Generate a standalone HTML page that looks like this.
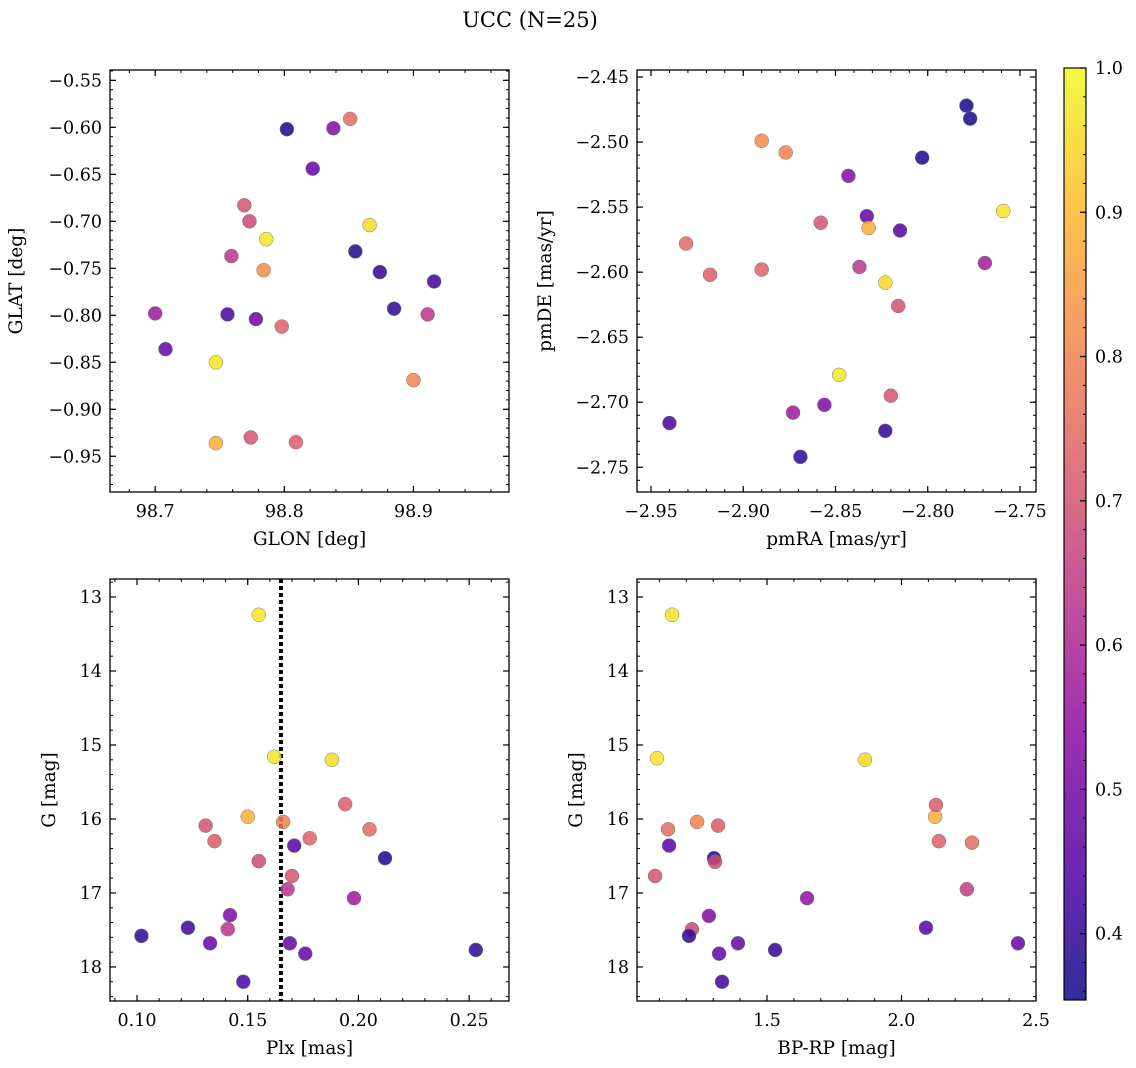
<!DOCTYPE html>
<html><head><meta charset="utf-8"><style>
html,body{margin:0;padding:0;background:#fff;width:1136px;height:1068px;overflow:hidden}
svg text{font-family:"DejaVu Serif","Liberation Serif",serif;fill:#000}
</style></head><body>
<svg id="fig" width="1136" height="1068" xmlns="http://www.w3.org/2000/svg">
<defs><linearGradient id="cbg" x1="0" y1="1" x2="0" y2="0"></linearGradient></defs>
<text x="530" y="27" font-size="21" text-anchor="middle">UCC (N=25)</text>
</svg>
<script>
// Panel 1: GLON / GLAT
const p1x=[98.802,98.838,98.851,98.822,98.769,98.773,98.786,98.866,98.759,98.855,98.784,98.874,98.885,98.911,98.916,98.700,98.756,98.778,98.798,98.708,98.747,98.900,98.747,98.774,98.809];
const p1y=[-0.602,-0.601,-0.591,-0.644,-0.683,-0.700,-0.719,-0.704,-0.737,-0.732,-0.752,-0.754,-0.793,-0.799,-0.764,-0.798,-0.799,-0.804,-0.812,-0.836,-0.850,-0.869,-0.936,-0.930,-0.935];
const p1c=[0.37,0.52,0.75,0.47,0.70,0.68,0.97,0.95,0.63,0.38,0.82,0.40,0.40,0.63,0.42,0.57,0.43,0.47,0.73,0.47,0.97,0.80,0.88,0.70,0.72];
// Panel 2: pmRA / pmDE
const p2x=[-2.779,-2.777,-2.803,-2.890,-2.877,-2.843,-2.759,-2.833,-2.858,-2.832,-2.815,-2.931,-2.769,-2.837,-2.890,-2.918,-2.823,-2.816,-2.848,-2.820,-2.856,-2.873,-2.940,-2.823,-2.869];
const p2y=[-2.472,-2.482,-2.512,-2.499,-2.508,-2.526,-2.553,-2.557,-2.562,-2.566,-2.568,-2.578,-2.593,-2.596,-2.598,-2.602,-2.608,-2.626,-2.679,-2.695,-2.702,-2.708,-2.716,-2.722,-2.742];
const p2c=[0.37,0.37,0.38,0.82,0.80,0.52,0.97,0.47,0.70,0.88,0.45,0.75,0.58,0.63,0.73,0.72,0.95,0.70,0.97,0.70,0.52,0.57,0.43,0.40,0.40];
// Panel 3: Plx / G
const p3x=[0.155,0.162,0.188,0.150,0.194,0.131,0.166,0.205,0.135,0.178,0.171,0.212,0.155,0.170,0.168,0.198,0.142,0.123,0.141,0.102,0.133,0.169,0.176,0.253,0.148];
const p3y=[13.24,15.16,15.20,15.97,15.80,16.09,16.04,16.14,16.30,16.26,16.36,16.53,16.57,16.77,16.95,17.07,17.30,17.47,17.49,17.58,17.68,17.68,17.82,17.77,18.20];
const p3c=[0.97,0.97,0.95,0.88,0.72,0.70,0.80,0.75,0.72,0.73,0.45,0.38,0.68,0.70,0.63,0.57,0.52,0.42,0.63,0.40,0.47,0.47,0.47,0.40,0.43];
const plxLine=[0.165];
// Panel 4: BP-RP / G
const p4x=[1.147,1.091,1.864,2.125,2.128,1.132,1.240,1.318,2.139,2.262,1.136,1.303,1.307,1.084,2.243,1.649,1.284,1.221,2.091,1.210,1.392,2.433,1.322,1.530,1.333];
const p4y=[13.24,15.18,15.20,15.97,15.81,16.14,16.04,16.09,16.30,16.32,16.36,16.53,16.58,16.77,16.95,17.07,17.31,17.49,17.47,17.58,17.68,17.68,17.82,17.77,18.20];
const p4c=[0.97,0.97,0.95,0.88,0.72,0.75,0.80,0.72,0.73,0.75,0.45,0.38,0.68,0.70,0.65,0.55,0.52,0.68,0.45,0.40,0.48,0.48,0.47,0.40,0.42];
const cbTicks=[0.4,0.5,0.6,0.7,0.8,0.9,1.0];

const NS="http://www.w3.org/2000/svg";
const svg=document.getElementById('fig');
function mk(tag,attrs,parent){const e=document.createElementNS(NS,tag);for(const k in attrs)e.setAttribute(k,attrs[k]);(parent||svg).appendChild(e);return e;}
const P=[[13,8,135],[84,2,163],[139,10,165],[185,50,137],[219,92,104],[244,136,73],[254,188,43],[240,249,33]];
const VMIN=0.354,VMAX=1.0;
function cmap(v){let t=(v-VMIN)/(VMAX-VMIN);t=Math.max(0,Math.min(1,t))*(P.length-1);const i=Math.min(P.length-2,Math.floor(t)),f=t-i;const c=P[i].map((a,k)=>Math.round(a+(P[i+1][k]-a)*f));return `rgb(${c[0]},${c[1]},${c[2]})`;}
function fmt(v,d){let s=v.toFixed(d);return s.replace('-','\u2212');}

function panel(o){
  const g=mk('g',{});
  
  
  const sx=v=>o.L+(v-o.x0)/(o.x1-o.x0)*(o.R-o.L);
  const sy=v=>o.T+(v-o.y0)/(o.y1-o.y0)*(o.B-o.T);
  const eps=1e-9;
  function ticks(a,b,step){const lo=Math.min(a,b),hi=Math.max(a,b);const r=[];for(let k=Math.ceil(lo/step-eps);k*step<=hi+eps;k++)r.push(k*step);return r;}
  ticks(o.x0,o.x1,o.xmin).forEach(v=>{const x=sx(v);mk('line',{x1:x,x2:x,y1:o.B,y2:o.B-3,stroke:'#000','stroke-width':1},g);mk('line',{x1:x,x2:x,y1:o.T,y2:o.T+3,stroke:'#000','stroke-width':1},g);});
  ticks(o.y0,o.y1,o.ymin).forEach(v=>{const y=sy(v);mk('line',{x1:o.L,x2:o.L+3,y1:y,y2:y,stroke:'#000','stroke-width':1},g);mk('line',{x1:o.R,x2:o.R-3,y1:y,y2:y,stroke:'#000','stroke-width':1},g);});
  ticks(o.x0,o.x1,o.xmaj).forEach(v=>{const x=sx(v);mk('line',{x1:x,x2:x,y1:o.B,y2:o.B-6,stroke:'#000','stroke-width':1.2},g);mk('line',{x1:x,x2:x,y1:o.T,y2:o.T+6,stroke:'#000','stroke-width':1.2},g);
    const t=mk('text',{x:x,y:o.B+25,'font-size':17.5,'text-anchor':'middle'},g);t.textContent=fmt(v,o.xd);
    
    });
  ticks(o.y0,o.y1,o.ymaj).forEach(v=>{const y=sy(v);mk('line',{x1:o.L,x2:o.L+6,y1:y,y2:y,stroke:'#000','stroke-width':1.2},g);mk('line',{x1:o.R,x2:o.R-6,y1:y,y2:y,stroke:'#000','stroke-width':1.2},g);
    const t=mk('text',{x:o.L-8,y:y+6,'font-size':17.5,'text-anchor':'end'},g);t.textContent=fmt(v,o.yd);
    
    });
  if(o.vline){o.vline.forEach(v=>{const l=mk('line',{x1:sx(v),x2:sx(v),y1:o.T,y2:o.B,stroke:'#000','stroke-width':4,'stroke-dasharray':'4,3'},g);
    
    });}
  o.xs.forEach((v,i)=>{const c=mk('circle',{cx:sx(v),cy:sy(o.ys[i]),r:7,fill:cmap(o.cs[i]),'fill-opacity':0.85,stroke:'#777','stroke-width':0.5},g);
    
    });
  mk('rect',{x:o.L,y:o.T,width:o.R-o.L,height:o.B-o.T,fill:'none',stroke:'#000','stroke-width':1.3},g);
  const xl=mk('text',{x:(o.L+o.R)/2,y:o.B+53,'font-size':18.5,'text-anchor':'middle'},g);xl.textContent=o.xlab;
  
  
  const yx=o.L-o.ylo,yy=(o.T+o.B)/2;
  const yl=mk('text',{x:yx,y:yy,'font-size':18.5,'text-anchor':'middle',transform:`rotate(-90 ${yx} ${yy})`},g);yl.textContent=o.ylab;
  
  
}
panel({name:'glon-glat-panel',L:110,R:509,T:70,B:492,x0:98.665,x1:98.974,y0:-0.539,y1:-0.988,xmaj:0.1,xmin:0.02,ymaj:0.05,ymin:0.01,xd:1,yd:2,xs:p1x,ys:p1y,cs:p1c,xlab:'GLON [deg]',ylab:'GLAT [deg]',ylo:88});
panel({name:'proper-motion-panel',L:637,R:1036,T:70,B:492,x0:-2.9576,x1:-2.7413,y0:-2.4446,y1:-2.769,xmaj:0.05,xmin:0.01,ymaj:0.05,ymin:0.01,xd:2,yd:2,xs:p2x,ys:p2y,cs:p2c,xlab:'pmRA [mas/yr]',ylab:'pmDE [mas/yr]',ylo:86});
panel({name:'plx-g-panel',L:110,R:509,T:579,B:1001,x0:0.0878,x1:0.268,y0:12.757,y1:18.46,xmaj:0.05,xmin:0.01,ymaj:1,ymin:0.2,xd:2,yd:0,xs:p3x,ys:p3y,cs:p3c,xlab:'Plx [mas]',ylab:'G [mag]',ylo:55,vline:plxLine});
panel({name:'cmd-panel',L:637,R:1036,T:579,B:1001,x0:1.0167,x1:2.5,y0:12.757,y1:18.46,xmaj:0.5,xmin:0.1,ymaj:1,ymin:0.2,xd:1,yd:0,xs:p4x,ys:p4y,cs:p4c,xlab:'BP-RP [mag]',ylab:'G [mag]',ylo:55});

// colorbar
const grad=document.getElementById('cbg');
for(let i=0;i<=20;i++){const v=VMIN+(VMAX-VMIN)*i/20;mk('stop',{offset:(i/20),'stop-color':cmap(v),'stop-opacity':0.85},grad);}
const cb=mk('g',{});


const CL=1064,CR=1086,CT=68,CB=1000;
mk('rect',{x:CL,y:CT,width:CR-CL,height:CB-CT,fill:'url(#cbg)',stroke:'#000','stroke-width':1.2},cb);
const cy=v=>CB-(v-VMIN)/(VMAX-VMIN)*(CB-CT);
for(let k=18;k<=50;k++){const v=k*0.02;if(v<VMIN||v>VMAX+1e-9)continue;mk('line',{x1:CR,x2:CR-3,y1:cy(v),y2:cy(v),stroke:'#000','stroke-width':1},cb);}
cbTicks.forEach(v=>{const y=cy(v);mk('line',{x1:CR,x2:CR-6,y1:y,y2:y,stroke:'#000','stroke-width':1.2},cb);
  const t=mk('text',{x:CR+9,y:y+6,'font-size':17.5},cb);t.textContent=v.toFixed(1);
  
  });
</script>
</body></html>
